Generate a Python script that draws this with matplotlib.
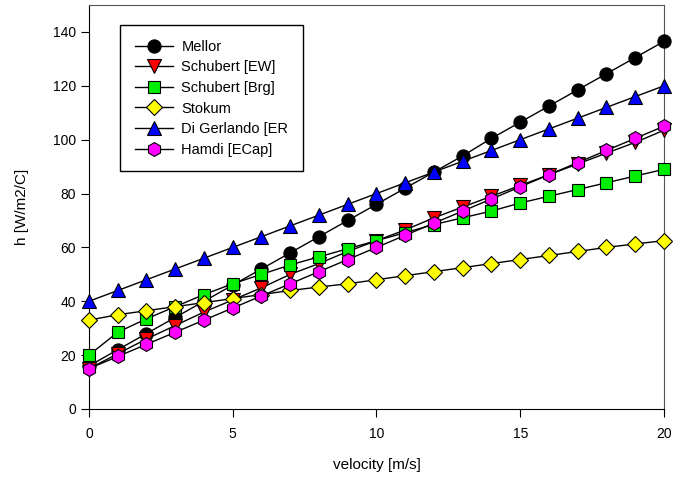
import matplotlib
matplotlib.use("Agg")
import matplotlib.pyplot as plt

plt.rcParams['font.family'] = ['Liberation Sans', 'DejaVu Sans']

velocity = list(range(21))

mellor = [16, 22, 28, 34, 40, 46, 52, 58, 64, 70, 76, 82, 88, 94, 100.5,
          106.5, 112.5, 118.5, 124.5, 130.5, 136.5]
schubert_ew = [15, 20.5, 26, 31, 36, 40.5, 45, 50, 54, 58.5, 62.5, 66.5, 71,
               75, 79, 83, 87, 91, 95, 99, 103.5]
schubert_brg = [20, 28.5, 33.5, 38, 42.5, 46.5, 50, 53.5, 56.5, 59.5, 62.5,
                65.5, 68.5, 71, 73.5, 76.5, 79, 81.5, 84, 86.5, 89]
stokum = [33, 35, 36.5, 38, 39.5, 41, 42.5, 44, 45.3, 46.5, 48, 49.5, 51,
          52.5, 54, 55.5, 57, 58.5, 60, 61.3, 62.5]
di_gerlando = [40, 44, 48, 52, 56, 60, 64, 68, 72, 76, 80, 84, 88, 92, 96,
               100, 104, 108, 112, 116, 120]
hamdi = [15, 19.5, 24, 28.5, 33, 37.5, 42, 46.5, 51, 55.5, 60, 64.5, 69,
         73.5, 78, 82.5, 87, 91.5, 96, 100.5, 105]

series = [
    ("Mellor", mellor, 'o', 'black', 9.5),
    ("Schubert [EW]", schubert_ew, 'v', 'red', 9.5),
    ("Schubert [Brg]", schubert_brg, 's', '#00ee00', 8.5),
    ("Stokum", stokum, 'D', 'yellow', 8),
    ("Di Gerlando [ER", di_gerlando, '^', 'blue', 9.5),
    ("Hamdi [ECap]", hamdi, 'h', 'magenta', 10),
]

fig = plt.figure(figsize=(6.82, 4.78), dpi=100)
ax = fig.add_axes([0.1305, 0.1444, 0.843, 0.845])

for name, vals, mk, col, ms in series:
    ax.plot(velocity, vals, '-', color='black', linewidth=1,
            marker=mk, markersize=ms, markerfacecolor=col,
            markeredgecolor='black', markeredgewidth=0.8, label=name,
            clip_on=False, zorder=3)

ax.set_xlim(0, 20)
ax.set_ylim(0, 150)
ax.set_xticks([0, 5, 10, 15, 20])
ax.set_yticks(range(0, 141, 20))
ax.tick_params(direction='out', length=6, labelsize=10, top=False, right=False)
ax.tick_params(axis='x', pad=7)
for s in ['top', 'right']:
    ax.spines[s].set_color('#555555')

ax.set_xlabel('velocity [m/s]', fontsize=11, labelpad=12)
ax.set_ylabel('h [W/m2/C]', fontsize=11, labelpad=17)

leg = ax.legend(loc='upper left', bbox_to_anchor=(0.054, 0.95), fancybox=False,
                edgecolor='black', framealpha=1, fontsize=10.5, handlelength=2.6,
                labelspacing=0.45, borderpad=1.0, borderaxespad=0,
                handletextpad=0.6)
leg.get_frame().set_linewidth(1)

fig.savefig('out.png', dpi=100)
